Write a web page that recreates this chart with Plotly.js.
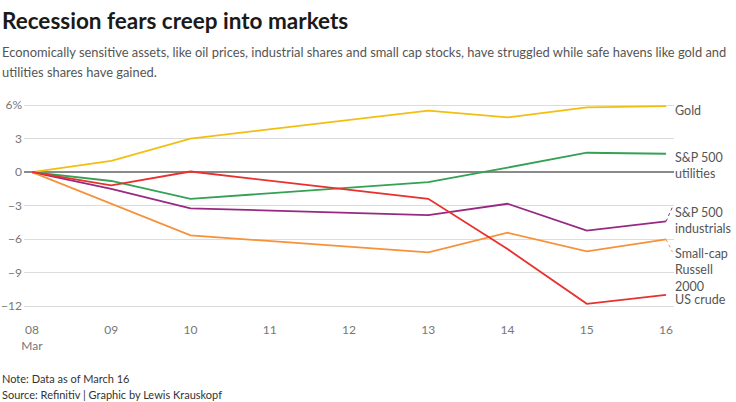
<!DOCTYPE html>
<html>
<head>
<meta charset="utf-8">
<script src="https://cdn.plot.ly/plotly-3.0.1.min.js"></script>
<style>html,body{margin:0;padding:0;background:#fff}#chart{width:736px;height:402px}</style>
</head>
<body>
<div id="chart"></div>
<script>
// Days of March 2023 (trading days)
const days = [8, 9, 10, 13, 14, 15, 16];
const tickDays = [8, 9, 10, 11, 12, 13, 14, 15, 16];
const tickLabels = ["08<br>Mar", "09", "10", "11", "12", "13", "14", "15", "16"];
const yTicks = [-12, -9, -6, -3, 0, 3, 6];
const yTickLabels = ["−12", "−9", "−6", "−3", "0", "3", "6%"];

const gold        = [0, 1.0, 3.0, 5.5, 4.9, 5.8, 5.9];
const utilities   = [0, -0.8, -2.4, -0.9, 0.4, 1.73, 1.64];
const industrials = [0, -1.5, -3.25, -3.85, -2.84, -5.25, -4.42];
const russell     = [0, -2.86, -5.67, -7.2, -5.43, -7.1, -6.03];
const crude       = [0, -1.2, 0.05, -2.4, -6.9, -11.8, -11.0];

const seriesNames = ["Gold", "S&P 500<br>utilities", "S&P 500<br>industrials", "Small-cap<br>Russell<br>2000", "US crude"];
const seriesData = [gold, utilities, industrials, russell, crude];
const colors = ["#f2bf10", "#34a153", "#962a80", "#f7923a", "#e8302e"];
const labelY = [5.55, 0.58, -4.3, -8.75, -11.45];

const FONT = "Lato, 'Source Sans Pro', sans-serif";

const traces = seriesData.map((d, i) => ({
  x: days, y: d, type: "scatter", mode: "lines",
  line: {color: colors[i], width: 1.8},
  hoverinfo: "skip", showlegend: false
}));

function txt(y, text, size, color, bold) {
  return {xref: "paper", yref: "paper", x: -0.037, y: y, xanchor: "left", yanchor: "middle", align: "left",
    text: bold ? "<b>" + text + "</b>" : text, showarrow: false,
    font: {family: FONT, size: size, color: color}};
}

// paper y from pixel: plot area top 95, height 220
const py = p => (315 - p) / 220;

const annotations = [
  txt(py(20), "Recession fears creep into markets", 22.5, "#1a1a1a", true),
  txt(py(52), "Economically sensitive assets, like oil prices, industrial shares and small cap stocks, have struggled while safe havens like gold and", 12.9, "#555", false),
  txt(py(72), "utilities shares have gained.", 12.9, "#555", false),
  txt(py(378), "Note: Data as of March 16", 11, "#333", false),
  txt(py(394), "Source: Refinitiv | Graphic by Lewis Krauskopf", 11, "#333", false)
];

seriesNames.forEach((n, i) => {
  annotations.push({
    x: days[days.length - 1], y: labelY[i], xref: "x", yref: "y",
    xanchor: "left", yanchor: "middle", align: "left", xshift: 7,
    text: n, showarrow: false,
    font: {family: FONT, size: 12.5, color: "#555"}
  });
});

const shapes = [];
[[2, 1.17], [3, 1.6]].forEach(([i, off]) => {
  const last = seriesData[i][seriesData[i].length - 1];
  shapes.push({type: "line", xref: "x", yref: "y",
    x0: days[days.length - 1], y0: last,
    x1: days[days.length - 1] + 0.08, y1: labelY[i] + off,
    line: {color: colors[i], width: 1, dash: "dot"}});
});

const layout = {
  width: 736, height: 402,
  margin: {l: 24, r: 62, t: 95, b: 87},
  paper_bgcolor: "#fff", plot_bgcolor: "#fff",
  font: {family: FONT, color: "#777", size: 12},
  xaxis: {
    range: [7.899, 16.1], tickmode: "array", tickvals: tickDays, ticktext: tickLabels,
    showgrid: false, zeroline: false, showline: false, ticks: "", ticklabelstandoff: 6,
    tickfont: {family: FONT, size: 12, color: "#777"}
  },
  yaxis: {
    range: [-12.8, 6.9], tickmode: "array", tickvals: yTicks, ticktext: yTickLabels,
    showgrid: true, gridcolor: "#dcdcdc", gridwidth: 1,
    zeroline: true, zerolinecolor: "#8a8a8a", zerolinewidth: 1.5,
    showline: false, ticks: "", ticklabelstandoff: 1,
    tickfont: {family: FONT, size: 12, color: "#777"}
  },
  annotations: annotations, shapes: shapes
};

Plotly.newPlot("chart", traces, layout, {displayModeBar: false, staticPlot: true});
</script>
</body>
</html>
